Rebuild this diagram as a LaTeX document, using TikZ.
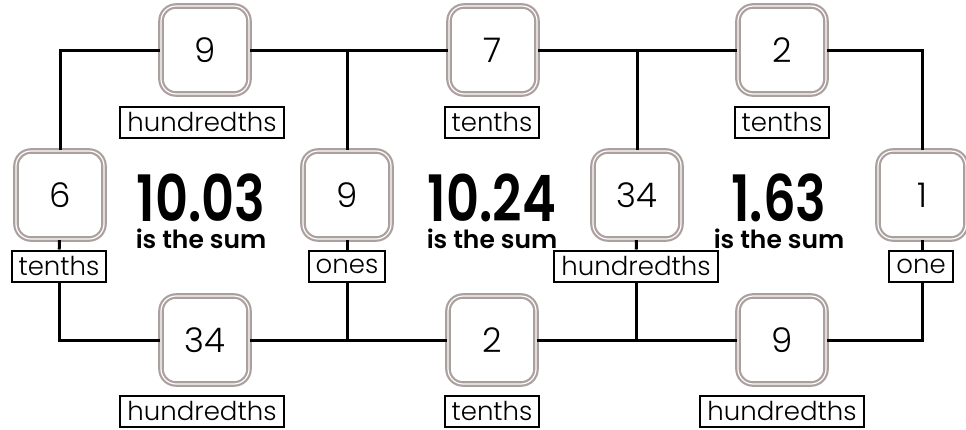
\documentclass[tikz,border=0pt]{standalone}
\usepackage{fontspec}
\setmainfont{Poppins}
\newfontfamily\lightfont{Poppins Light}
\newfontfamily\sumfont{Poppins SemiBold}
\newcommand{\bigsumtext}[1]{{\fontsize{64}{66}\selectfont\scalebox{0.8}[1]{#1}}}
\definecolor{boxgray}{HTML}{ABA09E}
\begin{document}
\begin{tikzpicture}[x=1pt,y=-1pt,
  numbox/.style={draw=boxgray, double=white, line width=2.2pt, double distance=1.2pt,
    rounded corners=15pt, fill=white, minimum width=88pt, minimum height=88pt,
    inner sep=0pt, font=\lightfont\fontsize{34}{36}\selectfont},
  lbl/.style={draw=black, line width=2pt, fill=white, minimum height=31pt,
    inner xsep=7pt, inner ysep=0pt, font=\lightfont\fontsize{26}{28}\selectfont},
  conn/.style={draw=black, line width=3pt},
  sumnode/.style={font=\sumfont\fontsize{25}{27}\selectfont, inner sep=0pt, anchor=north, align=center}]
\useasboundingbox (0,0) rectangle (966,429);
% nodes
\node[numbox] (T1) at (205,50) {9};
\node[numbox] (T2) at (493,50) {7};
\node[numbox] (T3) at (782,50) {2};
\node[numbox] (M1) at (60,195) {6};
\node[numbox] (M2) at (347,195) {9};
\node[numbox] (M3) at (637,195) {34};
\node[numbox] (M4) at (922,195) {1};
\node[numbox] (B1) at (205,340) {34};
\node[numbox] (B2) at (492,340) {2};
\node[numbox] (B3) at (782,340) {9};
\node[lbl] (T1L) at (202,122) {hundredths};
\node[lbl] (T2L) at (492,122) {tenths};
\node[lbl] (T3L) at (782,122) {tenths};
\node[lbl] (M1L) at (59,266) {tenths};
\node[lbl] (M2L) at (347,266) {ones};
\node[lbl] (M3L) at (636,266) {hundredths};
\node[lbl] (M4L) at (921,266) {one};
\node[lbl] (B1L) at (202,411) {hundredths};
\node[lbl] (B2L) at (492,411) {tenths};
\node[lbl] (B3L) at (782,411) {hundredths};
% sums
\node[sumnode] (S1) at (201,174) {\bigsumtext{10.03}\\is the sum};
\node[sumnode] (S2) at (492,174) {\bigsumtext{10.24}\\is the sum};
\node[sumnode] (S3) at (779,174) {\bigsumtext{1.63}\\is the sum};
% connectors
\draw[conn] (M1) |- (T1);
\draw[conn] (T1) -- (T2);
\draw[conn] (T2) -- (T3);
\draw[conn] (T3) -| (M4);
\draw[conn] (M2) -- (M2 |- T1);
\draw[conn] (M3) -- (M3 |- T1);
\draw[conn] (M1) -- (M1L);
\draw[conn] (M2) -- (M2L);
\draw[conn] (M3) -- (M3L);
\draw[conn] (M4) -- (M4 |- M4L.north);
\draw[conn] (M1L) |- (B1);
\draw[conn] (B1) -- (B2);
\draw[conn] (B2) -- (B3);
\draw[conn] (B3) -| (M4 |- M4L.south);
\draw[conn] (M2L) -- (M2L |- B1);
\draw[conn] (M3L) -- (M3L |- B1);
\end{tikzpicture}
\end{document}
